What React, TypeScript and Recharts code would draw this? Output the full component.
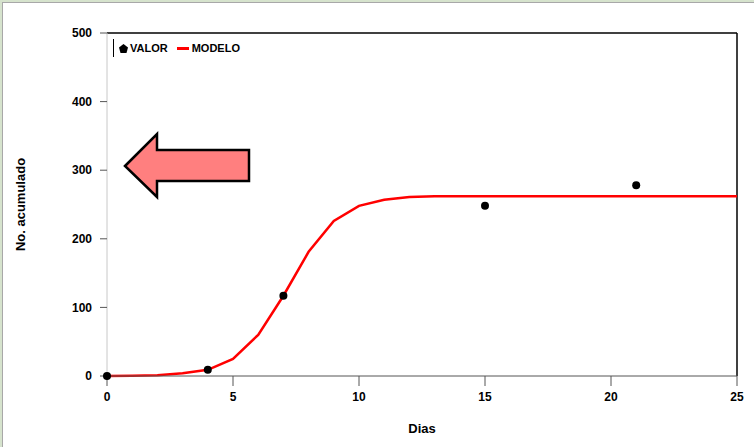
import { ComposedChart, Line, Scatter, XAxis, YAxis, ReferenceLine } from 'recharts'

const dias = [0, 1, 2, 3, 4, 5, 6, 7, 8, 9, 10, 11, 12, 13, 14, 15, 16, 17, 18, 19, 20, 21, 22, 23, 24, 25]
const modelo = [0, 0.3, 1, 4, 9, 25, 60, 117, 181, 226, 248, 257, 261, 262, 262, 262, 262, 262, 262, 262, 262, 262, 262, 262, 262, 262]

const valorDias = [0, 4, 7, 15, 21]
const valor = [0, 9, 117, 248, 278]

const xTicks = [0, 5, 10, 15, 20, 25]
const yTicks = [0, 100, 200, 300, 400, 500]

const lineData = dias.map((d, i) => ({ x: d, modelo: modelo[i] }))
const pointData = valorDias.map((d, i) => ({ x: d, valor: valor[i] }))

const FONT = '"Liberation Sans", Arial, sans-serif'

function LegendBox() {
  return (
    <div style={{ position: 'absolute', left: 113, top: 39, display: 'flex', alignItems: 'center', fontFamily: FONT, fontWeight: 700, fontSize: 11, color: '#000' }}>
      <div style={{ width: 1, height: 18, background: '#000', marginRight: 5 }} />
      <svg width={9} height={9} style={{ marginRight: 2 }}>
        <polygon points="4.5,0 9,3.5 7.5,9 1.5,9 0,3.5" fill="#000" />
      </svg>
      <span>VALOR</span>
      <div style={{ width: 12, height: 3, background: '#ff0000', margin: '0 3px 0 9px' }} />
      <span>MODELO</span>
    </div>
  )
}

export default function App() {
  return (
    <div style={{ position: 'absolute', left: 0, top: 0, width: 754, height: 447, background: '#fff',
      boxSizing: 'border-box', borderLeft: '3px solid #d6e3cd', borderTop: '3px solid #d6e3cd' }}>
      <div style={{ position: 'absolute', left: -1, top: -1, width: 755, height: 448, borderLeft: '1px solid #a8a8a8', borderTop: '1px solid #a8a8a8', boxSizing: 'border-box' }} />
      <div style={{ position: 'absolute', left: -3, top: -3 }}>
        <ComposedChart width={754} height={447} margin={{ top: 33, right: 17, bottom: 14, left: 47 }}>
          <XAxis dataKey="x" type="number" domain={[0, 25]} ticks={xTicks} allowDuplicatedCategory={false}
            stroke="#555" tickSize={10} tickMargin={6} height={57}
            tick={{ fill: '#000', fontSize: 12, fontWeight: 700, fontFamily: FONT }}
            label={{ value: 'Dias', position: 'insideBottom', offset: 0, fill: '#000', fontSize: 13, fontWeight: 700, fontFamily: FONT }} />
          <YAxis type="number" domain={[0, 500]} ticks={yTicks} width={60}
            stroke="#c8c8c8" tickSize={7} tickMargin={8}
            tickLine={{ stroke: '#555' }}
            tick={{ fill: '#000', fontSize: 12, fontWeight: 700, fontFamily: FONT }}
            label={{ value: 'No. acumulado', angle: -90, position: 'insideLeft', offset: 0, dx: -27, fill: '#000', fontSize: 13, fontWeight: 700, fontFamily: FONT, style: { textAnchor: 'middle' } }} />
          <ReferenceLine y={500} stroke="#000" strokeWidth={1.5} ifOverflow="visible" />
          <ReferenceLine x={25} stroke="#000" strokeWidth={1.5} ifOverflow="visible" />
          <Line data={lineData} dataKey="modelo" type="linear" stroke="#ff0000" strokeWidth={2.5}
            dot={false} activeDot={false} isAnimationActive={false} />
          <Scatter data={pointData} dataKey="valor" fill="#000" isAnimationActive={false}
            shape={(p: any) => <circle cx={p.cx} cy={p.cy} r={4} fill="#000" />} />
        </ComposedChart>
      </div>
      <div style={{ position: 'absolute', left: -3, top: -3 }}>
        <LegendBox />
      </div>
      <svg width={754} height={447} style={{ position: 'absolute', left: -3, top: -3, pointerEvents: 'none' }}>
        <polygon points="125,166 157,134 157,150 249,150 249,181 157,181 157,197"
          fill="#ff7f7f" stroke="#000" strokeWidth={2.5} strokeLinejoin="miter" />
      </svg>
    </div>
  )
}
